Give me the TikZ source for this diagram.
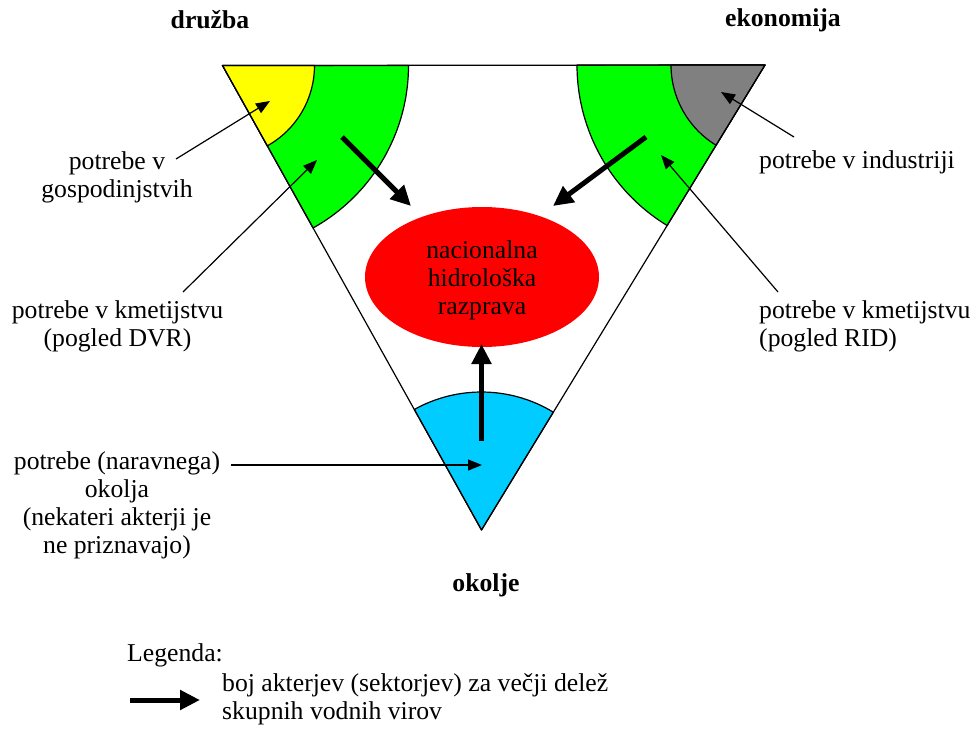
\documentclass[tikz,border=0pt]{standalone}
\usepackage{fontspec}
\setmainfont{Liberation Serif}
\usetikzlibrary{arrows.meta,shapes.geometric}
\definecolor{secgreen}{HTML}{00FF00}
\definecolor{secyellow}{HTML}{FFFF00}
\definecolor{secgray}{HTML}{808080}
\definecolor{secblue}{HTML}{00CCFF}
\definecolor{discred}{HTML}{FF0000}
\tikzset{
  sector/.style={draw=black, line width=1.2pt, line join=round},
  edge/.style={draw=black, line width=1.2pt},
  label/.style={inner sep=0pt, align=center, font=\fontsize{25.7}{28}\selectfont},
  labelleft/.style={inner sep=0pt, align=left, font=\fontsize{25.7}{28}\selectfont},
  title/.style={inner sep=0pt, font=\fontsize{25.7}{28}\selectfont\bfseries},
  pointer/.style={draw=black, line width=1.2pt, -{Triangle[length=14pt,width=11pt]}},
  claim/.style={draw=black, line width=5pt, -{Triangle[length=20pt,width=19pt]}},
}
\begin{document}
\begin{tikzpicture}[x=1pt,y=-1pt]
\useasboundingbox (0,0) rectangle (977,731);

% triangle corners
\coordinate (TL) at (222.5,65.5);
\coordinate (TR) at (765,65);
\coordinate (B) at (481.5,530);

% society corner: agriculture (green) and households (yellow)
\path[sector, fill=secgreen] (TL) -- ++(0:186pt) arc[start angle=0, end angle=-60.86, radius=186pt] -- cycle;
\path[sector, fill=secyellow] (TL) -- ++(0:92pt) arc[start angle=0, end angle=-60.86, radius=92pt] -- cycle;
% economy corner: agriculture (green) and industry (gray)
\path[sector, fill=secgreen] (TR) -- ++(180:188pt) arc[start angle=180, end angle=238.63, radius=188pt] -- cycle;
\path[sector, fill=secgray] (TR) -- ++(180:94pt) arc[start angle=180, end angle=238.63, radius=94pt] -- cycle;
% environment corner
\path[sector, fill=secblue] (B) -- ++(58.63:138pt) arc[start angle=58.63, end angle=119.14, radius=138pt] -- cycle;

% triangle outline
\draw[edge, line join=round] (TL) -- (TR) -- (B) -- cycle;

% national debate
\node[ellipse, fill=discred, minimum width=234pt, minimum height=140pt, inner sep=0pt] (debate) at (482,277) {};
\node[label] (debatetext) at (482,280) {nacionalna\\hidrološka\\razprava};

% corner titles
\node[title] (druzba) at (210,20) {družba};
\node[title] (ekonomija) at (783,20) {ekonomija};
\node[title] (okolje) at (486,585) {okolje};

% side labels
\node[label] (gosp) at (117,177.5) {potrebe v\\gospodinjstvih};
\node[label] (dvr) at (117.5,326.5) {potrebe v kmetijstvu\\(pogled DVR)};
\node[label] (env) at (117,505) {potrebe (naravnega)\\okolja\\(nekateri akterji je\\ne priznavajo)};
\node[labelleft, anchor=west] (ind) at (759,162) {potrebe v industriji};
\node[labelleft, anchor=west] (rid) at (759,326.5) {potrebe v kmetijstvu\\(pogled RID)};

% pointer ends
\coordinate (gospS) at (176,159);   \coordinate (gospT) at (270,101);
\coordinate (dvrS) at (183,292);    \coordinate (dvrT) at (317,160);
\coordinate (indS) at (794,137);    \coordinate (indT) at (721,92);
\coordinate (ridS) at (778,292);    \coordinate (ridT) at (661,155);
\coordinate (envS) at (231,465);    \coordinate (envT) at (482,465);

\draw[pointer] (gospS) -- (gospT);
\draw[pointer] (dvrS) -- (dvrT);
\draw[pointer] (indS) -- (indT);
\draw[pointer] (ridS) -- (ridT);
\draw[pointer] (envS) -- (envT);

% competing claims towards the debate
\coordinate (clS1) at (342,137);   \coordinate (clT1) at (411,206);
\coordinate (clS2) at (646,137);   \coordinate (clT2) at (553,206);
\coordinate (clS3) at (481.5,441); \coordinate (clT3) at (481.5,344);
\draw[claim] (clS1) -- (clT1);
\draw[claim] (clS2) -- (clT2);
\draw[claim] (clS3) -- (clT3);

% legend
\node[labelleft, anchor=west] (legtitle) at (127,655) {Legenda:};
\coordinate (legS) at (130,700);
\coordinate (legT) at (200,700);
\draw[claim] (legS) -- (legT);
\node[labelleft, anchor=west] (legtext) at (222,699) {boj akterjev (sektorjev) za večji delež\\skupnih vodnih virov};
\end{tikzpicture}
\end{document}
